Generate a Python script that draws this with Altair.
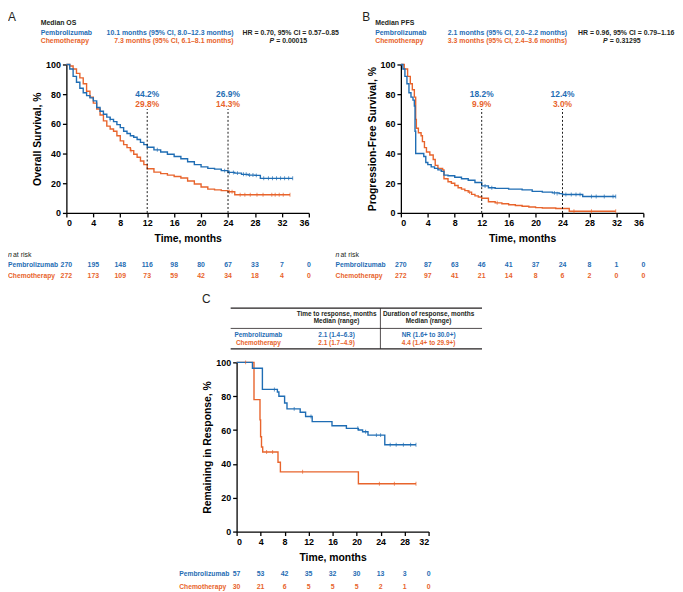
import altair as alt
import pandas as pd

BLUE = "#1f6db4"
ORANGE = "#e8642c"
DARK = "#231f20"
FONT = "Liberation Sans"
GROUPS = ["Pembrolizumab", "Chemotherapy"]

# ---------------- Panel A: overall survival ----------------
os_pem_t = [0, 0.5, 1.0, 1.5, 2.0, 2.5, 3.0, 3.5, 4.0, 4.5, 5.0, 5.5, 6.0, 6.5, 7.0, 7.5, 8.0, 8.5, 9.0, 9.5,
            10.0, 10.5, 11.0, 11.5, 12.0, 13.0, 14.0, 15.0, 16.0, 17.0, 18.0, 19.0, 20.0, 21.0, 22.0, 23.0,
            24.0, 25.0, 26.0, 27.0, 28.0, 28.8, 33.6]
os_pem_s = [100, 97, 92, 88, 84, 81, 79, 77.5, 75.5, 71, 68.5, 66.5, 64.5, 63, 61.5, 59.5, 57.5, 55, 53.5, 52,
            51, 49.5, 47.5, 46, 44.2, 42.5, 41, 39.5, 38, 36.5, 34.5, 32.5, 31, 30, 29.5, 28.5,
            27.3, 26.8, 26, 25.5, 25.3, 23.3, 23.3]
os_chemo_t = [0, 0.5, 1.0, 1.5, 2.0, 2.5, 3.0, 3.5, 4.0, 4.5, 5.0, 5.5, 6.0, 6.5, 7.0, 7.5, 8.0, 8.5, 9.0, 9.5,
              10.0, 10.5, 11.0, 11.5, 12.0, 13.0, 14.0, 15.0, 16.0, 17.0, 18.0, 19.0, 20.0, 21.0, 22.0, 23.0,
              24.0, 25.0, 33.2]
os_chemo_s = [100, 99, 97, 94, 91, 87, 82, 78, 74, 70, 66, 62, 58.5, 56.5, 55, 52, 48.5, 46, 44, 42,
              39.5, 37.5, 35, 32.5, 29.8, 27.5, 26.5, 25.5, 24.5, 23.5, 21.5, 19.5, 17.5, 16, 15.5, 15,
              14.3, 12.2, 12.2]
os_pem_cens_t = [6.5, 13.5, 23.5, 24.2, 24.8, 25.4, 26.3, 26.7, 27.2, 27.7, 28.2, 29.3, 30.0, 30.6, 31.2, 31.8,
                 32.4, 33.0, 33.6]
os_pem_cens_s = [63, 42.5, 28.5, 27.3, 27.3, 26.8, 26, 26, 25.5, 25.5, 25.3, 23.3, 23.3, 23.3, 23.3, 23.3,
                 23.3, 23.3, 23.3]
os_chemo_cens_t = [9.6, 24.2, 24.6, 25.8, 26.5, 27.3, 28.3, 29.2, 30.5, 31.0, 31.6, 32.2, 33.2]
os_chemo_cens_s = [42, 14.3, 14.3, 12.2, 12.2, 12.2, 12.2, 12.2, 12.2, 12.2, 12.2, 12.2, 12.2]
os_land_pem = ["44.2%", "26.9%"]
os_land_chemo = ["29.8%", "14.3%"]
os_risk_t = [0, 4, 8, 12, 16, 20, 24, 28, 32, 36]
os_risk_pem = [270, 195, 148, 116, 98, 80, 67, 33, 7, 0]
os_risk_chemo = [272, 173, 109, 73, 59, 42, 34, 18, 4, 0]

# ---------------- Panel B: progression-free survival ----------------
pfs_pem_t = [0, 0.3, 0.6, 0.9, 1.2, 1.5, 1.8, 2.0, 2.1, 2.2, 3.4, 3.7, 4.0, 4.5, 5.0, 5.5, 6.0, 6.4, 7.0, 8.0,
             9.0, 10.0, 11.0, 12.0, 13.0, 14.0, 16.0, 18.0, 19.5, 21.0, 22.5, 23.5, 24.0, 26.5, 27.0, 31.9]
pfs_pem_s = [100, 97, 92, 87, 81, 78, 76, 72, 55, 40, 38, 34, 32.5, 31, 30, 29, 28, 25.5, 25, 24,
             23, 22, 20.5, 18.2, 17, 16.5, 16, 15.5, 14.5, 14, 13.5, 13, 12.4, 12.4, 11.1, 11.1]
pfs_chemo_t = [0, 0.5, 1.0, 1.4, 1.7, 2.0, 2.2, 2.3, 2.6, 3.0, 3.2, 3.5, 3.8, 4.3, 4.8, 5.1, 5.5, 6.2, 6.4, 7.0,
               7.5, 8.0, 8.5, 9.0, 9.5, 10.0, 10.5, 11.0, 11.5, 12.0, 13.0, 14.0, 15.0, 16.0, 17.0, 18.0,
               19.0, 20.0, 21.0, 23.0, 25.0, 31.9]
pfs_chemo_s = [100, 97, 92, 87, 83, 78, 63, 57, 54, 52, 48, 44, 41, 39, 36, 32, 30, 29, 23, 21,
               20, 18.5, 17, 16, 15, 14, 12.5, 11.5, 10.7, 9.9, 7.5, 6.8, 6.2, 5.5, 5, 4.5,
               4.0, 3.6, 3.3, 3.0, 1.1, 1.1]
pfs_pem_cens_t = [12.5, 13.5, 22.8, 23.2, 24.5, 25.3, 26.0, 26.6, 28.3, 29.0, 30.2, 31.5, 31.9]
pfs_pem_cens_s = [18.2, 17, 13.5, 13, 12.4, 12.4, 12.4, 12.4, 11.1, 11.1, 11.1, 11.1, 11.1]
pfs_chemo_cens_t = [10.2, 14.3, 25.7, 28.3, 31.9]
pfs_chemo_cens_s = [14, 6.8, 1.1, 1.1, 1.1]
pfs_land_pem = ["18.2%", "12.4%"]
pfs_land_chemo = ["9.9%", "3.0%"]
pfs_risk_t = [0, 4, 8, 12, 16, 20, 24, 28, 32, 36]
pfs_risk_pem = [270, 87, 63, 46, 41, 37, 24, 8, 1, 0]
pfs_risk_chemo = [272, 97, 41, 21, 14, 8, 6, 2, 0, 0]

# ---------------- Panel C: duration of response ----------------
dor_pem_t = [0, 2.64, 4.3, 6.8, 7.05, 8.0, 8.4, 10.6, 11.5, 12.6, 15.9, 18.3, 20.3, 21.0, 21.9, 24.7, 29.9]
dor_pem_s = [100, 96.5, 84, 82.5, 80, 76, 72.5, 70.5, 68, 65, 62.5, 61, 60, 59, 57, 51.3, 51.3]
dor_chemo_t = [0, 2.9, 3.9, 4.0, 4.15, 4.35, 6.9, 7.3, 20.3, 29.9]
dor_chemo_s = [100, 78, 66, 56, 50, 47, 41, 35.3, 28.3, 28.3]
dor_pem_cens_t = [6.3, 9.6, 12.4, 20.2, 21.5, 23.3, 24.0, 25.6, 26.6, 27.8, 29.0, 29.9]
dor_pem_cens_s = [84, 72.5, 68, 61, 59, 57, 57, 51.3, 51.3, 51.3, 51.3, 51.3]
dor_chemo_cens_t = [1.5, 5.0, 6.0, 11.0, 23.8, 26.3, 29.9]
dor_chemo_cens_s = [100, 47, 47, 35.3, 28.3, 28.3, 28.3]
dor_risk_t = [0, 4, 8, 12, 16, 20, 24, 28, 32]
dor_risk_pem = [57, 53, 42, 35, 32, 30, 13, 3, 0]
dor_risk_chemo = [30, 21, 6, 5, 5, 5, 2, 1, 0]

LANDMARKS = [12, 24]

cscale = alt.Scale(domain=GROUPS, range=[BLUE, ORANGE])


def T(text, x, y, color=DARK, size=7.0, weight="bold", align="left", baseline="middle", style="normal"):
    return alt.Chart(alt.Data(values=[{"a": 1}])).mark_text(
        text=text, font=FONT, fontSize=size, fontWeight=weight, align=align,
        baseline=baseline, fontStyle=style, color=color
    ).encode(x=alt.value(x), y=alt.value(y))


def km_panel(pem_t, pem_s, chemo_t, chemo_s, pc_t, pc_s, cc_t, cc_s, xmax,
             ytitle, ytp, landmarks=None, land_pem=None, land_chemo=None):
    xs = alt.Scale(domain=[0, xmax], nice=False, zero=True)
    ys = alt.Scale(domain=[0, 100], nice=False)
    X = alt.X("t:Q", scale=xs, axis=alt.Axis(values=list(range(0, xmax + 1, 4)), title="Time, months",
                                             titlePadding=6, labelOverlap=False))
    Y = alt.Y("s:Q", scale=ys, axis=alt.Axis(values=[0, 20, 40, 60, 80, 100], title=ytitle,
                                             titlePadding=ytp, labelOverlap=False))
    C = alt.Color("g:N", scale=cscale, legend=None)
    curves = pd.concat([
        pd.DataFrame({"t": chemo_t, "s": chemo_s, "g": GROUPS[1]}),
        pd.DataFrame({"t": pem_t, "s": pem_s, "g": GROUPS[0]}),
    ])
    cens = pd.concat([
        pd.DataFrame({"t": cc_t, "s": cc_s, "g": GROUPS[1]}),
        pd.DataFrame({"t": pc_t, "s": pc_s, "g": GROUPS[0]}),
    ])
    layers = [
        alt.Chart(curves).mark_line(interpolate="step-after", strokeWidth=1.4).encode(x=X, y=Y, color=C,
                                                                                        order=alt.Order("t:Q")),
        alt.Chart(cens).mark_tick(orient="vertical", size=4, thickness=1).encode(x=X, y=Y, color=C),
    ]
    if landmarks:
        n = len(landmarks)
        lm = pd.DataFrame({"t": landmarks, "s": [0] * n, "s2": [70] * n})
        layers.append(alt.Chart(lm).mark_rule(color="black", strokeDash=[2, 2], strokeWidth=0.9)
                      .encode(x=X, y=Y, y2="s2:Q"))
        lp = pd.DataFrame({"t": landmarks, "s": [80] * n, "lab": land_pem})
        lcq = pd.DataFrame({"t": landmarks, "s": [73.2] * n, "lab": land_chemo})
        layers.append(alt.Chart(lp).mark_text(font=FONT, fontSize=8.5, fontWeight="bold", color=BLUE)
                      .encode(x=X, y=Y, text="lab:N"))
        layers.append(alt.Chart(lcq).mark_text(font=FONT, fontSize=8.5, fontWeight="bold", color=ORANGE)
                      .encode(x=X, y=Y, text="lab:N"))
    return layers, X


def risk_rows(X, t, pem, chemo, y_pem, y_chemo):
    d = pd.DataFrame({"t": t, "np": [str(v) for v in pem], "nc": [str(v) for v in chemo]})
    return [
        alt.Chart(d).mark_text(font=FONT, fontSize=7, fontWeight="bold", color=BLUE)
        .encode(x=X, y=alt.value(y_pem), text="np:N"),
        alt.Chart(d).mark_text(font=FONT, fontSize=7, fontWeight="bold", color=ORANGE)
        .encode(x=X, y=alt.value(y_chemo), text="nc:N"),
    ]


W, H = 245, 150

# ---- A ----
la, XA = km_panel(os_pem_t, os_pem_s, os_chemo_t, os_chemo_s, os_pem_cens_t, os_pem_cens_s,
                  os_chemo_cens_t, os_chemo_cens_s, 36, "Overall Survival, %", 3,
                  LANDMARKS, os_land_pem, os_land_chemo)
la += risk_rows(XA, os_risk_t, os_risk_pem, os_risk_chemo, 203, 213.5)
la += [
    T("A", -59, -53, size=12, weight="normal", baseline="top"),
    T("Median OS", -26, -41.5),
    T("Pembrolizumab", -26, -32, BLUE),
    T("Chemotherapy", -26, -23.5, ORANGE),
    T("10.1 months (95% CI, 8.0\u201312.3 months)", 169, -32, BLUE, align="right"),
    T("7.3 months (95%  CI, 6.1\u20138.1 months)", 169, -23.5, ORANGE, align="right"),
    T("HR = 0.70, 95% CI = 0.57\u20130.85", 178, -32),
    T("P", 210, -23.5, align="right", style="italic"),
    T("= 0.00015", 212, -23.5),
    T("n", -59, 193, size=7, weight="normal", style="italic"),
    T("at risk", -54, 193, size=7, weight="normal"),
    T("Pembrolizumab", -59, 203, BLUE, size=6.8),
    T("Chemotherapy", -59, 213.5, ORANGE, size=6.8),
]
chartA = alt.layer(*la).properties(width=W, height=H)

# ---- B ----
lb, XB = km_panel(pfs_pem_t, pfs_pem_s, pfs_chemo_t, pfs_chemo_s, pfs_pem_cens_t, pfs_pem_cens_s,
                  pfs_chemo_cens_t, pfs_chemo_cens_s, 36, "Progression-Free Survival, %", 3,
                  LANDMARKS, pfs_land_pem, pfs_land_chemo)
lb += risk_rows(XB, pfs_risk_t, pfs_risk_pem, pfs_risk_chemo, 203, 213.5)
lb += [
    T("B", -39, -53, size=12, weight="normal", baseline="top"),
    T("Median PFS", -26, -41.5),
    T("Pembrolizumab", -26, -32, BLUE),
    T("Chemotherapy", -26, -23.5, ORANGE),
    T("2.1 months (95% CI, 2.0\u20132.2 months)", 168, -32, BLUE, align="right"),
    T("3.3 months (95%  CI, 2.4\u20133.6 months)", 168, -23.5, ORANGE, align="right"),
    T("HR = 0.96, 95% CI = 0.79\u20131.16", 179, -32),
    T("P", 209, -23.5, align="right", style="italic"),
    T("= 0.31295", 211, -23.5),
    T("n", -66, 193, size=7, weight="normal", style="italic"),
    T("at risk", -61, 193, size=7, weight="normal"),
    T("Pembrolizumab", -66, 203, BLUE, size=6.8),
    T("Chemotherapy", -66, 213.5, ORANGE, size=6.8),
]
chartB = alt.layer(*lb).properties(width=W, height=H)

# ---- C ----
WC, HC = 194, 171
lc, XC = km_panel(dor_pem_t, dor_pem_s, dor_chemo_t, dor_chemo_s, dor_pem_cens_t, dor_pem_cens_s,
                  dor_chemo_cens_t, dor_chemo_cens_s, 32, "Remaining in Response, %", 3)
lc += risk_rows(XC, dor_risk_t, dor_risk_pem, dor_risk_chemo, 214, 226.7)


def hline(x1, x2, y, w):
    return alt.Chart(alt.Data(values=[{"a": 1}])).mark_rule(color=DARK, strokeWidth=w).encode(
        x=alt.value(x1), x2=alt.value(x2), y=alt.value(y))


lc += [
    T("C", -35, -69, size=12, weight="normal", baseline="top"),
    hline(-6, 248, -54.7, 1.3),
    hline(-6, 248, -34.3, 0.8),
    hline(-6, 248, -13.7, 1.3),
    alt.Chart(alt.Data(values=[{"a": 1}])).mark_rule(color=DARK, strokeWidth=0.8).encode(
        x=alt.value(145.3), y=alt.value(-54.7), y2=alt.value(-13.7)),
    T("Time to response, months", 101, -48.7, size=6.5, align="center"),
    T("Median  (range)", 101, -41.3, size=6.5, align="center"),
    T("Duration of response, months", 194, -48.7, size=6.5, align="center"),
    T("Median  (range)", 194, -41.3, size=6.5, align="center"),
    T("Pembrolizumab", 22, -27.7, BLUE, size=6.5, align="center"),
    T("Chemotherapy", 22, -20, ORANGE, size=6.5, align="center"),
    T("2.1 (1.4\u20136.3)", 101, -27.7, BLUE, size=6.5, align="center"),
    T("2.1 (1.7\u20134.9)", 101, -20, ORANGE, size=6.5, align="center"),
    T("NR  (1.6+ to 30.0+)", 194, -27.7, BLUE, size=6.5, align="center"),
    T("4.4 (1.4+ to 29.9+)", 194, -20, ORANGE, size=6.5, align="center"),
    T("Pembrolizumab", -58, 214, BLUE, size=6.8),
    T("Chemotherapy", -58, 226.7, ORANGE, size=6.8),
]
chartC = alt.layer(*lc).properties(width=WC, height=HC)

spacer = alt.Chart(alt.Data(values=[{"a": 1}])).mark_point(opacity=0).encode(
    x=alt.value(0), y=alt.value(0)).properties(width=79, height=HC)

top_row = alt.hconcat(chartA, chartB, spacing=93, bounds="flush")
bottom_row = alt.hconcat(spacer, chartC, spacing=93, bounds="flush")

chart = alt.vconcat(top_row, bottom_row, spacing=301, bounds="flush").properties(padding=0).configure_view(
    stroke=None).configure_axis(
    grid=False, domainColor="black", domainWidth=1.3, tickColor="black", tickWidth=1.3, tickSize=4,
    labelFont=FONT, labelFontSize=9, labelFontWeight="bold", labelColor="black", labelPadding=2,
    labelOverlap=False,
    titleFont=FONT, titleFontSize=10.5, titleFontWeight="bold", titleColor="black")

chart.save("out.html", embed_options={"renderer": "svg", "actions": False})
